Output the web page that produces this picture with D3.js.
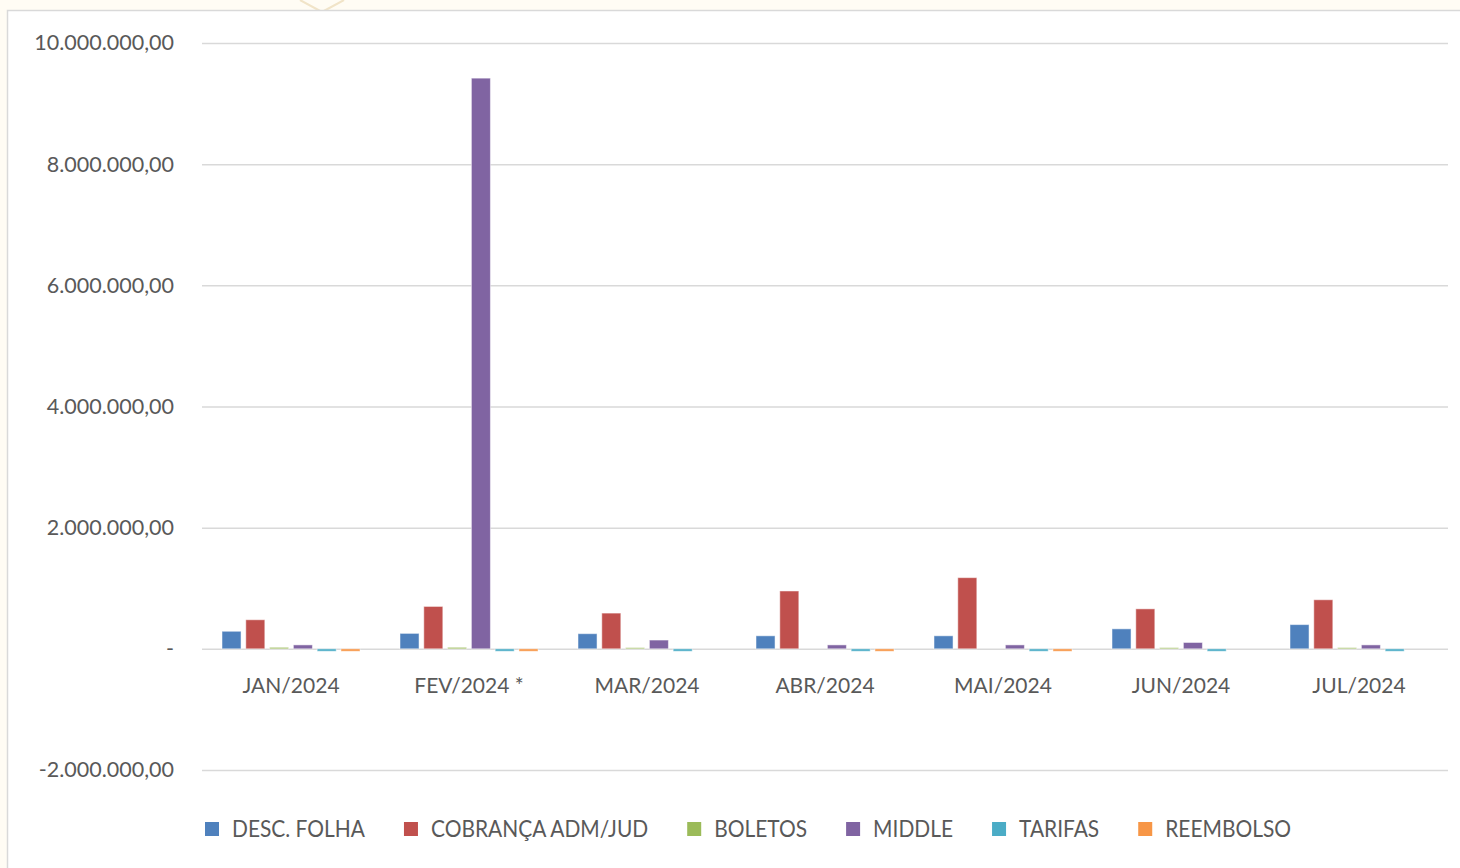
<!DOCTYPE html>
<html>
<head>
<meta charset="utf-8">
<script src="https://cdn.jsdelivr.net/npm/d3@7"></script>
<style>
  html, body { margin: 0; padding: 0; background: #fffcf4; }
  #chart { width: 1460px; height: 868px; }
  text { font-family: Lato, "Open Sans", sans-serif; fill: #595959; }
</style>
</head>
<body>
<div id="chart"></div>
<script>
// --- dados ---
const months = ["JAN/2024", "FEV/2024 *", "MAR/2024", "ABR/2024", "MAI/2024", "JUN/2024", "JUL/2024"];
const seriesNames = ["DESC. FOLHA", "COBRANÇA ADM/JUD", "BOLETOS", "MIDDLE", "TARIFAS", "REEMBOLSO"];
const seriesColors = ["#4f81bd", "#c0504d", "#9bbb59", "#8064a2", "#4bacc6", "#f79646"];

const descFolha = [290000, 255000, 250000, 215000, 215000, 330000, 400000];
const cobranca = [480000, 700000, 590000, 955000, 1175000, 660000, 810000];
const boletos = [25000, 25000, 20000, 0, 0, 20000, 20000];
const middle = [65000, 9420000, 145000, 65000, 65000, 105000, 65000];
const tarifas = [-40000, -40000, -40000, -40000, -40000, -40000, -40000];
const reembolso = [-40000, -40000, 0, -40000, -40000, 0, 0];

const yTicks = [-2000000, 0, 2000000, 4000000, 6000000, 8000000, 10000000];

const allSeries = [descFolha, cobranca, boletos, middle, tarifas, reembolso];

// --- layout ---
const W = 1460, H = 868;
const plot = { left: 202, right: 1448, top: 43, bottom: 770 };

const svg = d3.select("#chart").append("svg")
  .attr("width", W).attr("height", H);

// fundo decorativo
svg.append("rect").attr("width", W).attr("height", H).attr("fill", "#fffcf4");
svg.append("path")
  .attr("d", "M300,0 L322,12 L344,0")
  .attr("fill", "none").attr("stroke", "#f1e4c8").attr("stroke-width", 2);
svg.append("rect")
  .attr("x", 7.5).attr("y", 10.5).attr("width", W).attr("height", H)
  .attr("fill", "#ffffff").attr("stroke", "#d9d9d9").attr("stroke-width", 1.5);

const br = d3.formatLocale({ decimal: ",", thousands: ".", grouping: [3], currency: ["R$", ""], minus: "-" });
const fmt = br.format(",.2f");

const y = d3.scaleLinear().domain([-2000000, 10000000]).range([plot.bottom, plot.top]);
const x0 = d3.scaleBand().domain(months).range([plot.left, plot.right]).padding(0);
const groupPad = (x0.bandwidth() - 138) / 2;
const x1 = d3.scaleBand().domain(seriesNames)
  .range([groupPad, x0.bandwidth() - groupPad]).paddingInner(0.2);

// grade
const yAxis = d3.axisLeft(y).tickValues(yTicks)
  .tickSize(-(plot.right - plot.left))
  .tickFormat(d => d === 0 ? "-" : fmt(d));
const gy = svg.append("g").attr("transform", `translate(${plot.left},0)`).call(yAxis);
gy.select(".domain").remove();
gy.selectAll(".tick line").attr("stroke", "#d9d9d9").attr("stroke-width", 1.5);
gy.selectAll(".tick text").attr("x", -28).attr("font-size", 21.5).attr("fill", "#595959");

// barras
const rows = months.map((m, i) => ({ month: m, values: allSeries.map((s, j) => ({ key: seriesNames[j], v: s[i], c: seriesColors[j] })) }));
const groups = svg.append("g").selectAll("g").data(rows).join("g")
  .attr("transform", d => `translate(${x0(d.month)},0)`);
groups.selectAll("rect").data(d => d.values).join("rect")
  .attr("x", d => x1(d.key))
  .attr("width", x1.bandwidth())
  .attr("y", d => y(Math.max(0, d.v)))
  .attr("height", d => Math.abs(y(d.v) - y(0)))
  .attr("fill", d => d.c)
  .attr("stroke", "#ffffff").attr("stroke-opacity", 0.5).attr("stroke-width", 1);

// rótulos das categorias
svg.append("g").selectAll("text").data(months).join("text")
  .attr("x", d => x0(d) + x0.bandwidth() / 2)
  .attr("y", 693)
  .attr("text-anchor", "middle")
  .attr("font-size", 21)
  .text(d => d);

// legenda
const legend = svg.append("g").attr("transform", "translate(205,829)");
let lx = 0;
seriesNames.forEach((name, i) => {
  const g = legend.append("g").attr("transform", `translate(${lx},0)`);
  g.append("rect").attr("x", 0).attr("y", -7).attr("width", 14).attr("height", 14).attr("fill", seriesColors[i]);
  const t = g.append("text").attr("x", 27).attr("y", 8).attr("font-size", 22.5).text(name);
  const w = t.node().getComputedTextLength() * 0.93;
  t.attr("textLength", w).attr("lengthAdjust", "spacingAndGlyphs");
  lx += 27 + w + 39;
});
</script>
</body>
</html>
